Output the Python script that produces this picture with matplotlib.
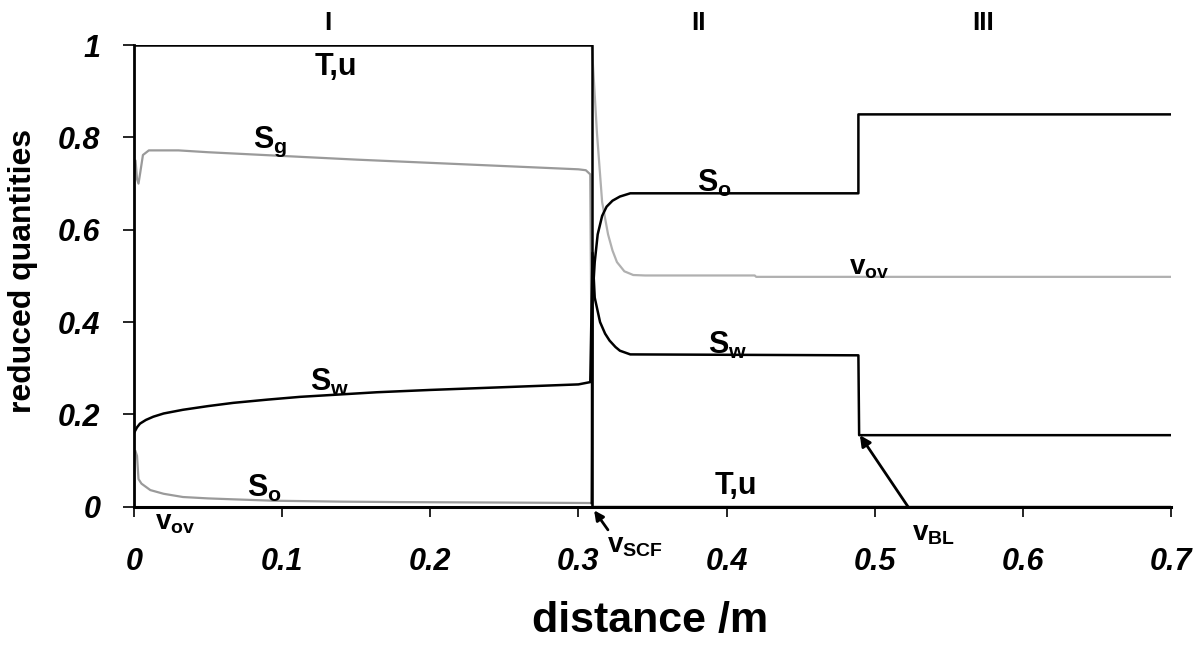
import numpy as np
import matplotlib
matplotlib.use("Agg")
import matplotlib.pyplot as plt

plt.rcParams['font.family'] = ['Liberation Sans', 'DejaVu Sans']
plt.rcParams['font.weight'] = 'bold'
plt.rcParams['mathtext.fontset'] = 'custom'
plt.rcParams['mathtext.bf'] = 'Liberation Sans:bold'
plt.rcParams['mathtext.rm'] = 'Liberation Sans:bold'

# T,u (black)
tu_x = [0.0, 0.309, 0.309, 0.7]
tu_y = [1.0, 1.0, 0.0, 0.0]

# S_g (grey), region I then zero behind the front
sg_x = [0.0, 0.001, 0.002, 0.003, 0.004, 0.006, 0.01, 0.03, 0.05, 0.1, 0.15, 0.2, 0.25, 0.3, 0.305, 0.308, 0.3095, 0.7]
sg_y = [0.72, 0.75, 0.71, 0.70, 0.72, 0.762, 0.772, 0.772, 0.768, 0.76, 0.752, 0.745, 0.738, 0.731, 0.729, 0.72, 0.0, 0.0]

# S_o region I (grey)
so1_x = [0.001, 0.002, 0.003, 0.005, 0.011, 0.02, 0.033, 0.05, 0.067, 0.094, 0.14, 0.18, 0.25, 0.309]
so1_y = [0.12, 0.11, 0.06, 0.05, 0.036, 0.028, 0.021, 0.018, 0.016, 0.013, 0.011, 0.01, 0.009, 0.008]

# S_o behind the front (black)
so2_x = [0.309, 0.3095, 0.311, 0.313, 0.316, 0.319, 0.323, 0.328, 0.335, 0.489, 0.489, 0.7]
so2_y = [0.008, 0.45, 0.53, 0.59, 0.63, 0.65, 0.663, 0.672, 0.679, 0.679, 0.85, 0.85]

# S_w (black)
sw_x = [0.0, 0.002, 0.004, 0.008, 0.013, 0.02, 0.033, 0.05, 0.067, 0.09, 0.112, 0.164, 0.2, 0.25, 0.3, 0.308,
        0.3095, 0.311, 0.3146, 0.318, 0.321, 0.325, 0.328, 0.335, 0.489, 0.4895, 0.7]
sw_y = [0.16, 0.172, 0.18, 0.188, 0.195, 0.202, 0.21, 0.218, 0.225, 0.232, 0.238, 0.248, 0.253, 0.259, 0.265, 0.27,
        0.55, 0.453, 0.40, 0.375, 0.36, 0.346, 0.338, 0.33, 0.328, 0.155, 0.155]

# v_ov behind the front (grey)
vov_x = [0.309, 0.3105, 0.3125, 0.316, 0.32, 0.323, 0.326, 0.331, 0.337, 0.345, 0.419, 0.42, 0.7]
vov_y = [1.0, 0.92, 0.81, 0.66, 0.59, 0.555, 0.53, 0.51, 0.502, 0.501, 0.501, 0.498, 0.498]

grey = '#9a9a9a'

fig = plt.figure(figsize=(11.99, 6.45), dpi=100)
ax = fig.add_axes([0.1118, 0.2144, 0.8648, 0.7156])

ax.plot(sg_x, sg_y, color=grey, lw=1.6)
ax.plot(so1_x, so1_y, color=grey, lw=1.6)
ax.plot(vov_x, vov_y, color='#b0b0b0', lw=1.6)
ax.plot(tu_x, tu_y, color='black', lw=1.8)
ax.plot(so2_x, so2_y, color='black', lw=1.8)
ax.plot(sw_x, sw_y, color='black', lw=1.8)

ax.set_xlim(0, 0.7)
ax.set_ylim(0, 1)
ax.spines['top'].set_visible(False)
ax.spines['right'].set_visible(False)
ax.spines['left'].set_linewidth(2)
ax.spines['bottom'].set_linewidth(2.2)

ax.set_xticks([0, 0.1, 0.2, 0.3, 0.4, 0.5, 0.6, 0.7])
ax.set_xticklabels(['0', '0.1', '0.2', '0.3', '0.4', '0.5', '0.6', '0.7'])
ax.set_yticks([0, 0.2, 0.4, 0.6, 0.8, 1.0])
ax.set_yticklabels(['0', '0.2', '0.4', '0.6', '0.8', '1'])
ax.tick_params(axis='x', direction='out', length=7, width=1.2, pad=22, labelsize=22)
ax.tick_params(axis='y', direction='out', length=8, width=1.2, pad=16, labelsize=22)
for lab in ax.get_xticklabels() + ax.get_yticklabels():
    lab.set_fontstyle('italic')
    lab.set_fontweight('bold')

fig.text(0.542, 0.037, 'distance /m', fontsize=31, fontweight='bold', ha='center', va='center')
fig.text(0.019, 0.58, 'reduced quantities', fontsize=23, fontweight='bold', rotation=90,
         ha='center', va='center')

kw = dict(fontsize=22, fontweight='bold', ha='center', va='center', clip_on=False)
kv = dict(kw, fontsize=20)
kn = dict(kw, fontsize=19)
ax.text(0.131, 1.049, 'I', **kn)
ax.text(0.381, 1.049, 'II', **kn)
ax.text(0.573, 1.049, 'III', **kn)
ax.text(0.136, 0.952, 'T,u', **kw)
ax.text(0.406, 0.045, 'T,u', **kw)
ax.text(0.092, 0.79, r'$\mathbf{S_g}$', **kw)
ax.text(0.132, 0.27, r'$\mathbf{S_w}$', **kw)
ax.text(0.088, 0.04, r'$\mathbf{S_o}$', **kw)
ax.text(0.392, 0.70, r'$\mathbf{S_o}$', **kw)
ax.text(0.401, 0.35, r'$\mathbf{S_w}$', **kw)
ax.text(0.496, 0.517, r'$\mathbf{v_{ov}}$', **kv)
ax.text(0.028, -0.035, r'$\mathbf{v_{ov}}$', **kv)
ax.text(0.338, -0.085, r'$\mathbf{v_{SCF}}$', **kv)
ax.text(0.54, -0.06, r'$\mathbf{v_{BL}}$', **kv)

ax.annotate('', xy=(0.3095, -0.003), xytext=(0.321, -0.055),
            arrowprops=dict(arrowstyle='-|>', color='black', lw=2, mutation_scale=14),
            annotation_clip=False)
ax.annotate('', xy=(0.49, 0.155), xytext=(0.5225, 0.0),
            arrowprops=dict(arrowstyle='-|>', color='black', lw=2, mutation_scale=16, shrinkA=0, shrinkB=0),
            annotation_clip=False)

fig.savefig('out.png', dpi=100)
